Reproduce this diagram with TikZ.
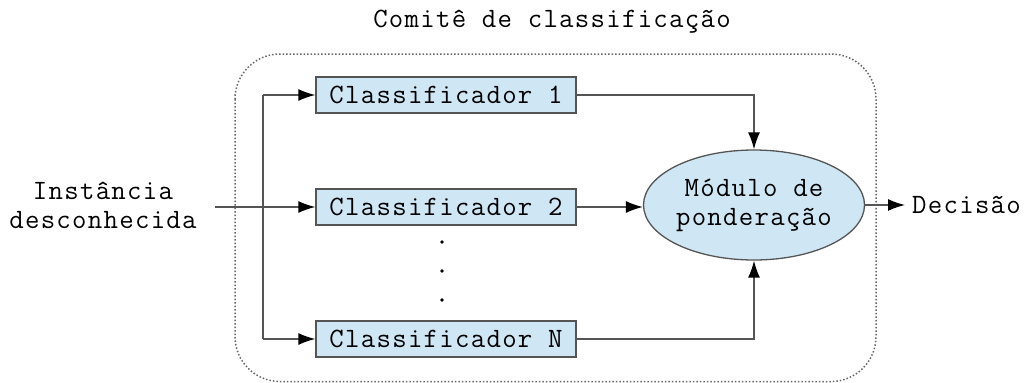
\documentclass[tikz,border=0pt]{standalone}
\usepackage{fontspec}
\setmainfont{Latin Modern Mono}[LetterSpace=4.6]
\usetikzlibrary{arrows.meta,shapes.geometric}
\definecolor{boxfill}{HTML}{CFE6F4}
\definecolor{linegray}{HTML}{555555}
\begin{document}
\begin{tikzpicture}[x=1pt,y=-1pt,
  font=\fontsize{28}{29}\selectfont,
  clsbox/.style={draw=linegray,fill=boxfill,line width=1.3pt,minimum width=260pt,minimum height=36pt,inner sep=0pt},
  wline/.style={draw=linegray,line width=1.4pt},
  arr/.style={wline,-{Latex[length=17pt,width=12pt,black]}},
  plain/.style={inner sep=0pt,align=center}]
\useasboundingbox (0,0) rectangle (1034,383);
\draw[draw=black!60,line width=1.5pt,dash pattern=on 1.5pt off 2pt,rounded corners=45pt] (235,54) rectangle (876,381.5);
\node[plain] (title) at (552,22) {Comitê de classificação};
\node[clsbox] (c1) at (446,95) {Classificador 1};
\node[clsbox] (c2) at (446,207) {Classificador 2};
\node[clsbox] (cN) at (446,339) {Classificador N};
\node[ellipse,draw=linegray,fill=boxfill,line width=1.3pt,minimum width=221pt,minimum height=110pt,inner sep=0pt,align=center] (mod) at (754,205) {Módulo de\\ponderação};
\node[plain] (inst) at (103,205) {Instância\\desconhecida};
\node[plain,anchor=west] (dec) at (912,205) {Decisão};
\coordinate (in) at (215,207);
\coordinate (j1) at (263,95);
\coordinate (jN) at (263,339);
\fill (442,242) circle (1.8pt);
\fill (442,271) circle (1.8pt);
\fill (442,300) circle (1.8pt);
\draw[arr] (in) -- (c2.west);
\draw[wline] (j1) -- (jN);
\draw[arr] (j1) -- (c1.west);
\draw[arr] (jN) -- (cN.west);
\draw[arr] (c1.east) -| (mod.north);
\draw[arr] (cN.east) -| (mod.south);
\draw[arr] (c2.east) -- (mod.west |- c2.east);
\draw[arr,shorten >=7pt] (mod.east) -- (dec.west);
\end{tikzpicture}
\end{document}
